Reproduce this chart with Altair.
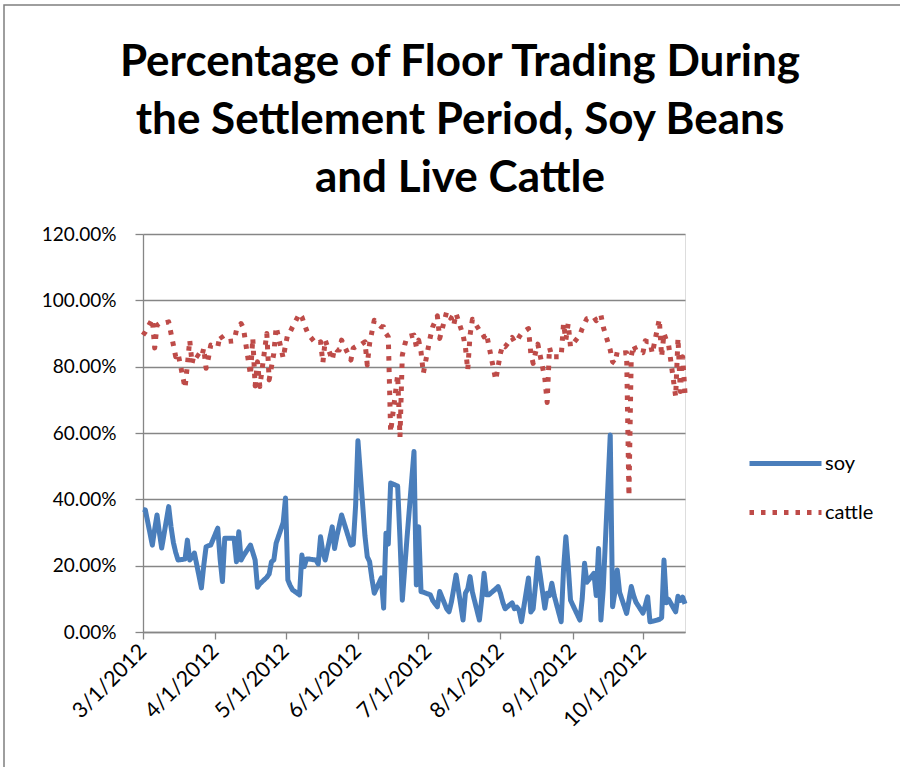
import altair as alt
import pandas as pd

# Trading days, March 1 to October 19, 2012 (exchange holidays removed)
holidays = ["2012-04-06", "2012-05-28", "2012-07-04", "2012-09-03"]
dates = [d.strftime("%Y-%m-%d") for d in pd.bdate_range("2012-03-01", "2012-10-19")
         if d.strftime("%Y-%m-%d") not in holidays]

# Percentage of floor trading during the settlement period, soy beans
soy_pct = [
    # March
    37, 36.8, 26.2, 31, 35.3, 30, 25.3, 37.8, 31.7, 27, 24, 21.7, 22, 27.7, 21.7, 22.5,
    23.8, 13.3, 20, 25.7, 26, 26.2,
    # April
    31.3, 22, 15.2, 28.3, 28.3, 21.2, 30.2, 21.7, 23, 26.2, 24, 21.7, 13.5, 14.5, 16.5,
    17.5, 21.2, 21.7, 26.8, 33,
    # May
    40.4, 15.7, 14, 12.7, 11.2, 23.2, 19.7, 22, 22, 21.7, 20.5, 28.7, 24, 21.7, 31.7,
    25.2, 29, 32, 35.3, 26.2, 26.5, 38,
    # June
    57.7, 29, 22.7, 21.2, 16, 11.7, 16.3, 7.2, 29.8, 26.5, 44.9, 44, 28, 9.6, 19, 28.3,
    54.4, 14.2, 31.7, 12.2, 12,
    # July
    11.2, 9.5, 7.6, 12.2, 7, 6.1, 9, 13, 17.2, 3.6, 11.7, 13, 16.7, 12, 3.6, 10, 17.7,
    11.2, 11.2, 13, 13.7,
    # August
    11.7, 9, 7, 8.8, 7, 7.5, 6.5, 3.1, 16.3, 6, 7, 14, 22.3, 7.2, 11.7, 11, 14.7, 11,
    3.1, 18.8, 28.7, 20, 9.6,
    # September
    3.6, 10, 20.7, 15, 17.7, 11, 25.2, 3.6, 13, 59.4, 7.6, 12, 18.7, 12, 5.6, 9.5, 13.7,
    11, 9,
    # October
    5.7, 8, 10.6, 3.1, 3.2, 3.8, 4.3, 21.7, 8.8, 9.8, 6.1, 10.8, 9.5, 10.5, 8.5,
]

# Percentage of floor trading during the settlement period, live cattle
cattle_pct = [
    # March
    89.5, 90.5, 94.4, 85.6, 92.5, 93, 93, 93.5, 90, 86.5, 83, 84, 73.6, 80.5, 88, 81,
    84, 82.6, 85.6, 79.5, 82.6, 86.5,
    # April
    86, 89.5, 88.6, 87.5, 87.8, 91, 92, 93, 91.6, 77.5, 88.6, 74.2, 81.5, 74, 90, 76,
    80, 84, 92, 82.6,
    # May
    86.5, 90, 90.5, 92, 96, 95, 93, 91, 89.5, 87, 87, 87.5, 81.2, 88, 82, 85.6, 85, 85,
    88, 82, 85.6, 86,
    # June
    86, 87.5, 80.5, 87, 90.5, 94, 92, 92, 90, 89, 60.3, 77.5, 58.8, 83.5, 86.5, 89,
    89.5, 86, 88, 84.5, 78,
    # July
    89, 92, 95.3, 88.5, 96.6, 95, 94.6, 92.5, 96, 89.5, 86, 79, 89.5, 94.3, 91, 90.5,
    89, 90, 86.5, 76, 80,
    # August
    84, 86.5, 86, 88.8, 87.5, 87.5, 89, 90, 91.5, 84, 81, 84.2, 86.8, 76.5, 69.2, 85.8,
    83, 83, 83, 93, 88, 93, 86,
    # September
    89.5, 91.5, 93, 94.5, 95, 93.9, 95, 95.6, 92, 85, 81.5, 81, 84.5, 84, 84.2, 41,
    83.2, 86.5, 85,
    # October
    84.2, 87.8, 87.5, 87.5, 84, 94.3, 83, 90, 88, 86.5, 71, 88.6, 72.5, 83, 72,
]

series_names = ["soy", "cattle"]
series_colors = ["#4a7ebb", "#be4b48"]
series_dashes = [[1, 0], [4.5, 7]]
month_ticks = [alt.DateTime(year=2012, month=m, date=1, utc=True) for m in range(3, 11)]
y_ticks = [0, 0.2, 0.4, 0.6, 0.8, 1.0, 1.2]
title_lines = ["Percentage of Floor Trading During",
               "the Settlement Period, Soy Beans",
               "and Live Cattle"]

df = pd.DataFrame({
    "date": dates * 2,
    "series": ["soy"] * len(dates) + ["cattle"] * len(dates),
    "value": [v / 100 for v in soy_pct] + [v / 100 for v in cattle_pct],
})

grey = "#868686"
font = "Lato"

legend = alt.Legend(title=None, orient="none", legendX=604, legendY=206,
                    labelFont=font, labelFontSize=20, labelColor="black",
                    symbolType="stroke", symbolSize=5184, symbolStrokeWidth=5,
                    clipHeight=47, rowPadding=2, labelOffset=1, padding=0)

lines = alt.Chart(df).mark_line(strokeWidth=5, strokeCap="butt", strokeJoin="round").encode(
    x=alt.X(
        "date:T",
        scale=alt.Scale(type="utc",
                        domain=[alt.DateTime(year=2012, month=3, date=1, utc=True),
                                alt.DateTime(year=2012, month=10, date=19, utc=True)]),
        axis=alt.Axis(values=month_ticks, labelExpr="utcFormat(datum.value, '%-m/%-d/%Y')",
                      grid=False, title=None, labelAngle=-45, labelAlign="right",
                      labelBaseline="middle", labelFont=font, labelFontSize=21.5,
                      labelColor="black", tickSize=7, tickColor=grey, tickWidth=1.3,
                      domainColor=grey, domainWidth=1.3, labelPadding=9, labelOverlap=False),
    ),
    y=alt.Y(
        "value:Q",
        scale=alt.Scale(domain=[0, 1.2], nice=False),
        axis=alt.Axis(values=y_ticks, format=".2%", title=None, labelFont=font,
                      labelFontSize=19, labelColor="black", tickSize=8, tickColor=grey,
                      tickWidth=1.3, domainColor=grey, domainWidth=1.3, gridColor=grey,
                      gridWidth=1.3, labelPadding=19),
    ),
    color=alt.Color("series:N", scale=alt.Scale(domain=series_names, range=series_colors),
                    legend=legend),
    strokeDash=alt.StrokeDash("series:N",
                              scale=alt.Scale(domain=series_names, range=series_dashes),
                              legend=legend),
)

# outer chart-area border
frame = alt.Chart(pd.DataFrame({"k": [0]})).mark_rect(
    fill=None, stroke="#7f7f7f", strokeWidth=1.5
).encode(
    x=alt.value(-139), x2=alt.value(762), y=alt.value(-229), y2=alt.value(546)
)

chart = alt.layer(frame, lines).properties(
    width=542,
    height=398,
    padding={"left": 143, "top": 234, "right": 215, "bottom": 135},
    autosize=alt.AutoSizeParams(type="none"),
    title=alt.TitleParams(text=title_lines, font=font, fontSize=44, fontWeight="bold",
                          lineHeight=58, anchor="middle", dx=46, offset=-197,
                          color="black"),
).configure_view(stroke=None).configure(background="white")

chart.save("out.html", embed_options={"renderer": "svg", "actions": False})
